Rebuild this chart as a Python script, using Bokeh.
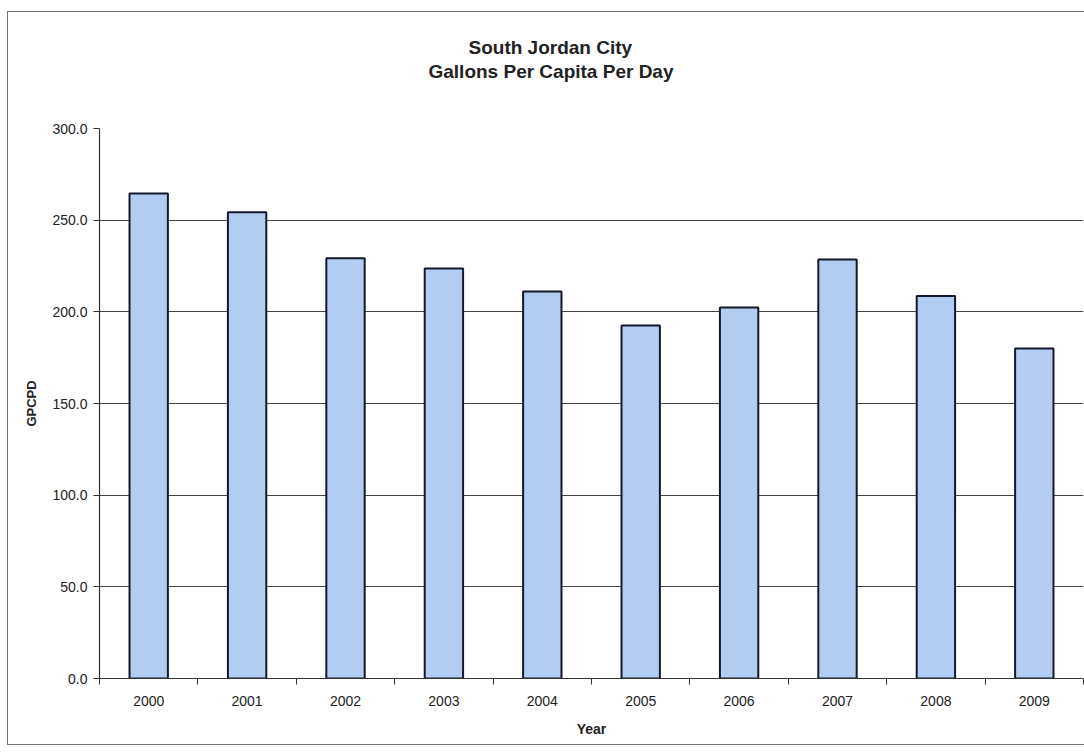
from bokeh.plotting import figure
from bokeh.models import FixedTicker, NumeralTickFormatter, Title, Range1d
from bokeh.embed import file_html
from bokeh.resources import INLINE

years = [2000, 2001, 2002, 2003, 2004, 2005, 2006, 2007, 2008, 2009]
gpcpd = [264.5, 254.3, 229.2, 223.6, 211.1, 192.5, 202.4, 228.5, 208.6, 180.0]
y_ticks = [0, 50, 100, 150, 200, 250, 300]
title_lines = ["South Jordan City", "Gallons Per Capita Per Day"]

FONT = "Liberation Sans"

p = figure(width=1077, height=734, output_backend="svg", toolbar_location=None,
           x_range=Range1d(years[0] - 0.5, years[-1] + 0.5), y_range=Range1d(0, 300),
           min_border_left=91, min_border_right=2, min_border_top=116, min_border_bottom=68,
           margin=(11, 0, 0, 7),
           styles={"border-left": "1px solid #777777", "border-top": "1px solid #777777",
                   "border-bottom": "1px solid #777777"})
p.title = None
p.outline_line_color = None
p.background_fill_color = "white"
p.border_fill_color = "white"

p.vbar(x=years, top=gpcpd, width=0.39, fill_color="#b2cdf1",
       line_color="#15182a", line_width=2)

# x axis
p.xaxis.ticker = FixedTicker(ticks=years, minor_ticks=[y - 0.5 for y in years] + [years[-1] + 0.5])
p.xaxis.major_tick_out = 0
p.xaxis.major_tick_in = 0
p.xaxis.minor_tick_out = 6
p.xaxis.minor_tick_in = 0
p.xaxis.minor_tick_line_color = "#333333"
p.xaxis.axis_line_color = "#333333"
p.xaxis.axis_line_width = 1.2
p.xaxis.major_label_standoff = 11
p.xaxis.major_label_text_font = FONT
p.xaxis.major_label_text_font_size = "14px"
p.xaxis.major_label_text_color = "#222222"
p.xaxis.axis_label = "Year"
p.xaxis.axis_label_text_font = FONT
p.xaxis.axis_label_text_font_size = "14px"
p.xaxis.axis_label_text_font_style = "bold"
p.xaxis.axis_label_text_color = "#222222"
p.xaxis.axis_label_standoff = 12
p.xgrid.grid_line_color = None

# y axis
p.yaxis.ticker = FixedTicker(ticks=y_ticks)
p.yaxis.formatter = NumeralTickFormatter(format="0.0")
p.yaxis.major_tick_out = 6
p.yaxis.major_tick_in = 0
p.yaxis.minor_tick_line_color = None
p.yaxis.major_tick_line_color = "#333333"
p.yaxis.axis_line_color = "#333333"
p.yaxis.axis_line_width = 1.2
p.yaxis.major_label_standoff = 6
p.yaxis.major_label_text_font = FONT
p.yaxis.major_label_text_font_size = "14px"
p.yaxis.major_label_text_color = "#222222"
p.yaxis.axis_label = "GPCPD"
p.yaxis.axis_label_text_font = FONT
p.yaxis.axis_label_text_font_size = "13px"
p.yaxis.axis_label_text_font_style = "bold"
p.yaxis.axis_label_text_color = "#222222"
p.yaxis.axis_label_standoff = 10
p.ygrid.ticker = FixedTicker(ticks=y_ticks[1:-1])
p.ygrid.grid_line_color = "#444444"
p.ygrid.grid_line_width = 1

# empty spacer panel between plot area and the title lines
p.add_layout(Title(text=" ", standoff=23, text_font=FONT, text_font_size="19px"), "above")

# two-line title: the line nearest the plot area is added first
for t, standoff, offset in [(title_lines[1], 2, 329), (title_lines[0], 0, 369)]:
    p.add_layout(Title(text=t, align="left", offset=offset, standoff=standoff,
                       text_font=FONT, text_font_size="19px",
                       text_font_style="bold", text_color="#222222"), "above")

open("out.html", "w").write(file_html(p, INLINE))
